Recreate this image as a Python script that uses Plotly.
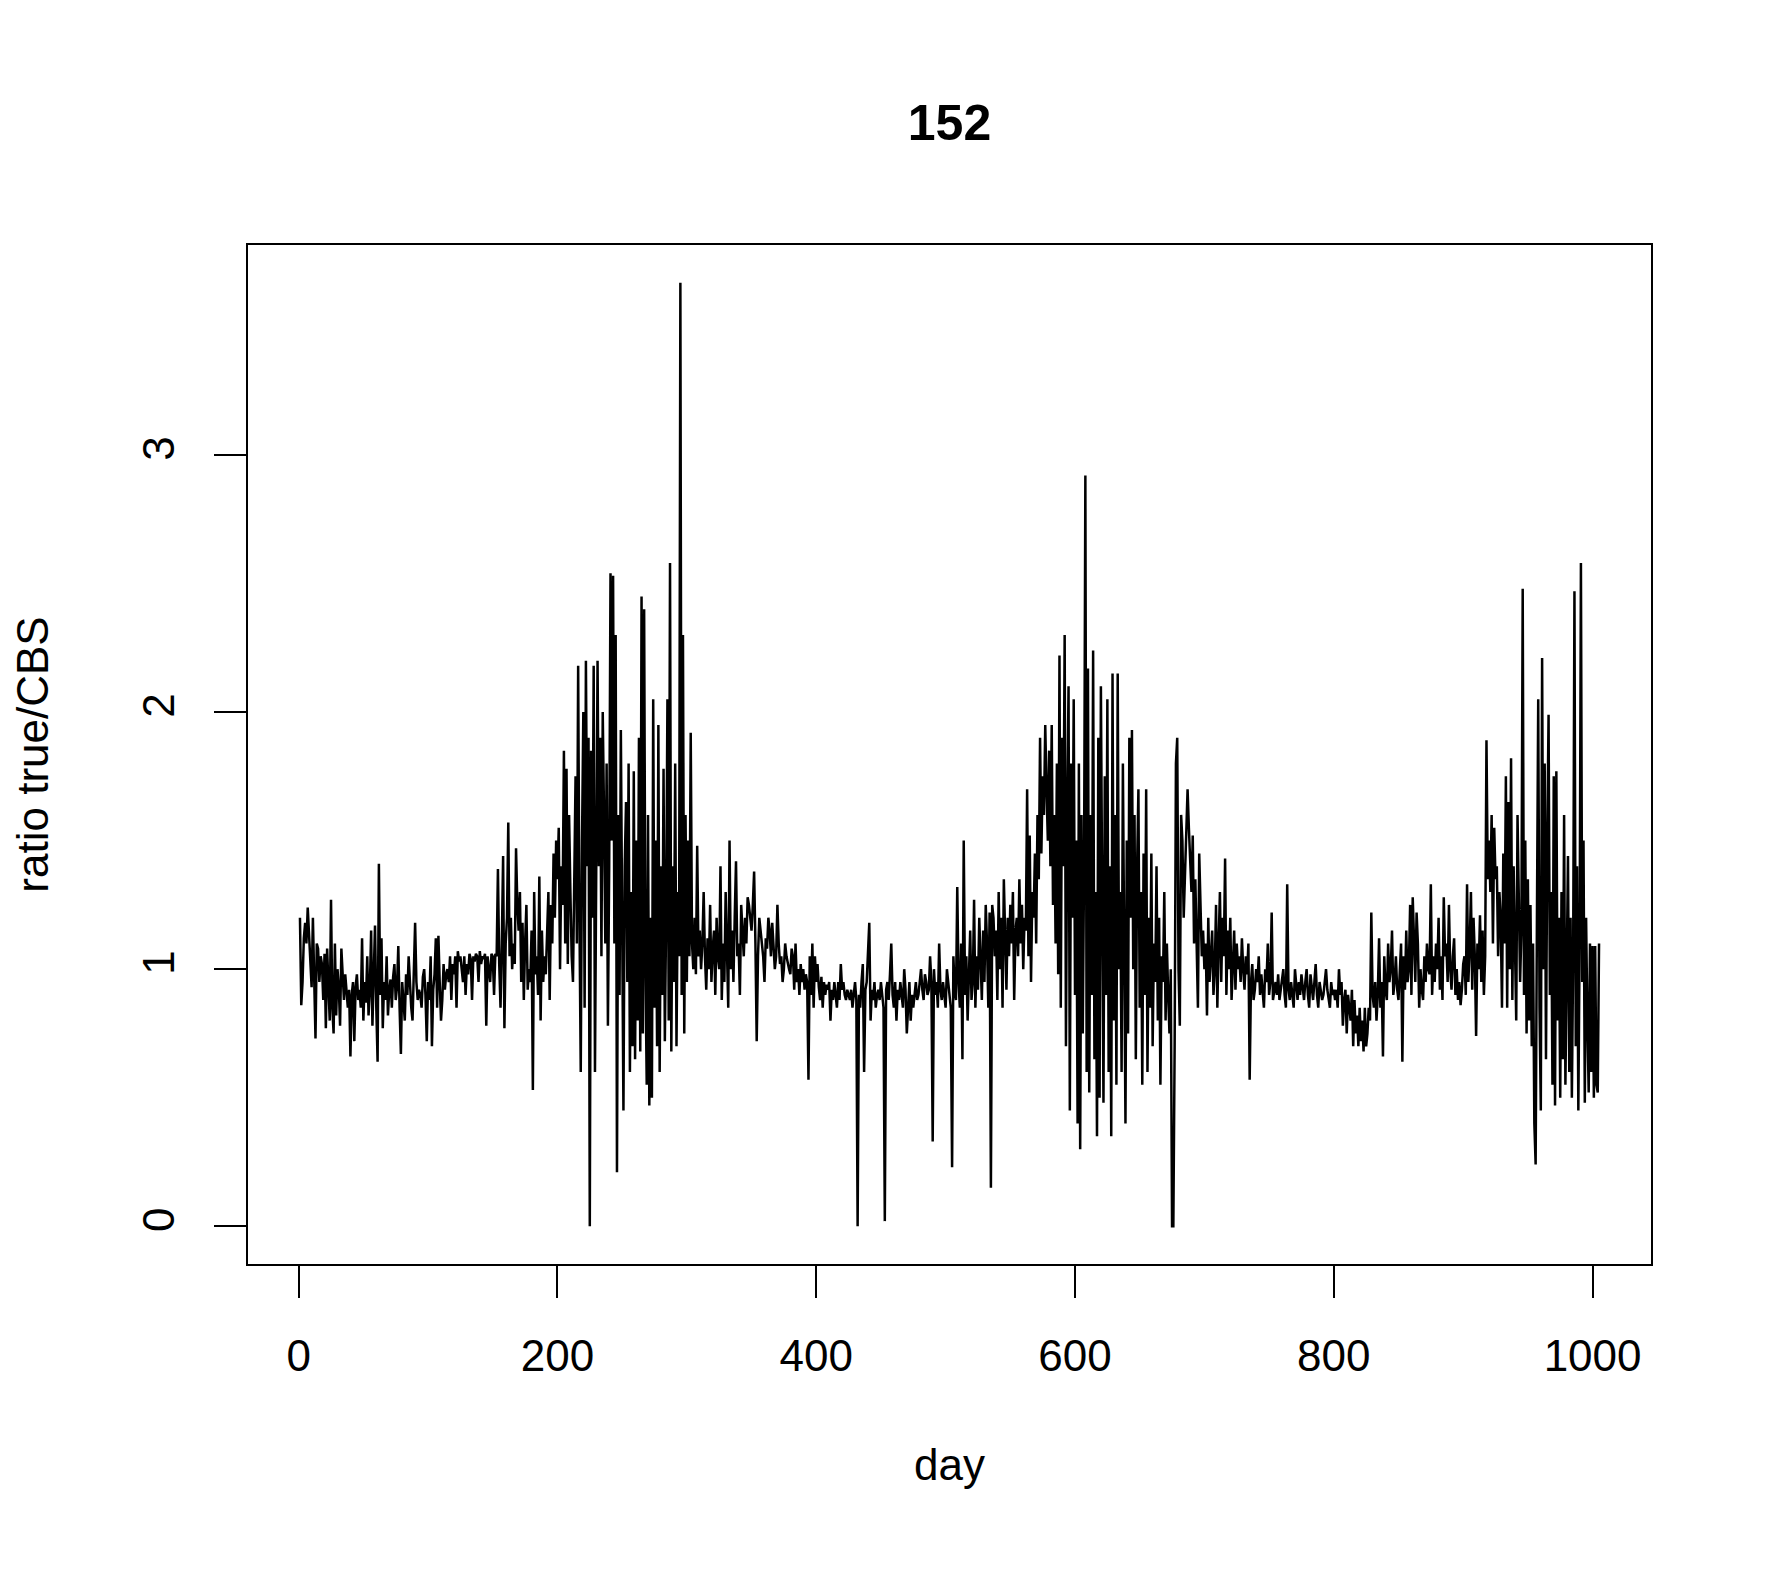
import plotly.graph_objects as go

title = "152"
x_label = "day"
y_label = "ratio true/CBS"
x_ticks = [0, 200, 400, 600, 800, 1000]
y_ticks = [0, 1, 2, 3]

ratio = [
1.20,0.86,0.95,1.12,1.18,1.10,1.24,1.15,1.05,0.93,1.20,0.98,0.73,1.10,1.08,0.95,1.05,1.02,0.88,1.06,0.77,1.08,0.95,0.80,1.27,
0.85,0.75,1.10,0.82,1.00,0.93,0.78,1.08,0.95,0.88,0.98,0.91,0.85,0.92,0.66,0.90,0.95,0.72,0.93,0.98,0.88,0.92,0.85,1.12,0.80,
0.95,0.87,1.05,0.82,0.92,1.15,0.78,0.95,1.17,0.85,0.64,1.41,0.90,1.12,0.77,0.95,0.88,1.05,0.82,0.92,0.96,0.85,0.97,1.02,0.88,
0.93,1.09,0.85,0.67,0.95,0.88,0.80,0.98,0.90,1.05,0.92,0.85,0.80,0.98,1.18,0.95,0.88,0.92,0.90,0.85,0.97,1.00,0.90,0.72,0.95,
0.88,1.05,0.70,0.92,0.98,1.12,0.85,1.13,0.95,0.80,0.88,1.02,0.92,0.98,1.00,0.95,1.05,0.88,1.02,0.98,1.05,0.85,1.07,1.03,1.05,
1.00,0.95,1.05,0.90,1.02,0.98,1.06,1.04,0.88,1.05,1.03,1.06,1.05,0.95,1.07,1.02,1.05,1.04,1.06,0.78,1.05,1.00,0.95,1.06,1.05,
0.90,1.06,1.05,1.39,1.02,0.85,1.10,1.44,0.77,1.10,1.20,1.57,1.05,1.20,1.00,1.10,1.02,1.47,1.25,1.15,1.30,0.95,1.18,0.88,1.10,
1.25,0.92,1.00,0.95,1.15,0.53,1.30,0.98,1.05,0.90,1.36,0.80,1.15,0.95,1.05,0.98,1.12,1.30,0.88,1.25,1.10,1.45,1.20,1.50,1.35,
1.55,1.00,1.40,1.25,1.85,1.10,1.78,1.02,1.60,1.30,1.05,0.95,1.45,1.75,1.10,2.18,1.20,0.60,1.50,2.00,0.85,2.20,1.40,1.90,0.00,
1.85,1.20,2.18,0.60,1.50,2.20,1.40,1.90,1.05,2.00,1.60,1.10,1.80,0.78,1.40,2.54,1.50,2.53,1.10,2.30,0.21,1.60,0.90,1.93,1.20,
0.45,1.40,1.65,0.95,1.80,0.60,1.30,0.70,1.77,0.65,1.50,0.80,1.90,0.68,2.45,0.75,2.40,1.00,0.55,1.60,0.47,1.20,0.50,2.05,0.85,
1.50,0.70,1.95,0.60,1.40,0.90,1.78,0.72,1.20,2.05,0.80,2.58,0.68,1.40,0.95,1.80,0.70,1.30,1.05,3.67,0.90,2.30,0.75,1.60,0.95,
1.50,1.05,1.92,1.10,1.00,1.20,0.98,1.48,1.05,1.15,1.00,1.10,1.30,1.05,0.92,1.12,1.00,1.25,0.95,1.08,1.15,0.90,1.20,1.05,1.00,
1.40,0.88,1.10,0.95,1.30,1.05,0.85,1.50,1.00,1.15,0.95,1.20,1.42,1.05,1.10,0.90,1.25,1.15,1.05,1.20,1.10,1.28,1.25,1.20,1.15,
1.25,1.38,1.10,0.72,1.05,1.20,1.15,1.10,1.05,0.95,1.12,1.08,1.20,1.15,1.05,1.18,1.10,1.00,1.05,1.25,1.10,1.02,1.05,0.95,1.00,
1.10,1.05,1.02,1.00,0.98,1.08,1.05,0.92,1.10,0.95,1.00,0.90,1.02,0.95,1.00,0.92,0.98,0.95,0.57,1.05,0.90,1.10,0.85,1.05,0.95,
1.02,0.93,0.88,0.97,0.85,0.95,0.90,0.94,0.92,0.95,0.80,0.92,0.88,0.95,0.90,0.85,0.95,0.88,1.02,0.92,0.95,0.90,0.88,0.92,0.90,
0.88,0.92,0.85,0.90,0.95,0.88,0.00,0.90,0.85,0.95,1.02,0.60,0.92,0.95,1.05,1.18,0.80,0.92,0.88,0.95,0.85,0.90,0.92,0.88,0.95,
0.90,0.85,0.02,0.92,0.95,0.88,0.98,1.10,0.90,0.85,0.95,0.80,0.92,0.88,0.95,0.90,0.85,1.00,0.92,0.75,0.88,0.95,0.80,0.90,0.85,
0.92,0.95,0.88,0.90,0.95,1.00,0.92,0.88,0.98,0.95,0.90,0.92,1.05,0.95,0.33,1.00,0.90,0.95,0.85,1.10,0.92,0.88,0.95,0.90,0.85,
1.00,0.95,0.90,0.85,0.23,1.05,0.92,0.88,1.32,0.95,0.85,1.10,0.65,1.50,0.90,1.05,0.80,1.00,1.15,0.88,0.95,1.27,0.85,1.05,0.92,
1.20,1.00,0.88,1.15,0.95,1.25,1.10,0.85,1.22,0.15,1.25,1.20,1.05,1.15,0.88,1.30,1.00,1.20,0.85,1.35,1.10,0.92,1.20,1.05,1.25,
1.10,1.30,0.88,1.15,1.20,1.05,1.35,1.10,1.25,1.00,1.20,1.15,1.70,1.05,1.52,0.95,1.30,1.20,1.45,1.10,1.60,1.35,1.90,1.45,1.75,
1.60,1.95,1.70,1.50,1.85,1.40,1.95,1.25,1.60,1.10,1.80,0.98,2.22,0.85,1.90,1.40,2.30,0.70,1.60,2.10,0.45,1.80,1.20,2.05,0.90,
1.50,0.40,1.80,0.30,1.60,0.75,1.40,2.92,0.60,2.17,0.52,1.60,0.90,2.24,0.65,1.30,0.35,1.90,0.50,2.10,1.20,0.48,1.75,0.90,2.05,
0.60,1.40,0.35,2.15,0.80,1.60,0.55,2.15,1.00,1.30,0.60,1.80,0.90,0.40,1.50,0.75,1.90,1.20,1.93,1.00,1.60,0.65,1.40,1.70,0.85,
1.30,0.55,1.45,0.90,1.70,0.60,1.20,0.85,1.45,0.70,1.10,0.95,1.40,0.80,1.20,0.55,1.05,0.95,1.30,0.80,1.10,0.90,0.75,1.00,0.00,
0.00,0.70,1.80,1.90,1.00,0.78,1.60,1.50,1.20,1.40,1.60,1.70,1.55,1.40,1.30,1.52,1.10,1.35,1.00,0.85,1.45,1.20,1.05,1.15,1.00,
1.10,0.82,1.20,0.95,1.05,1.15,0.90,1.00,1.25,0.85,1.10,1.30,0.95,1.20,1.05,1.43,0.90,1.15,1.00,1.20,0.88,1.05,1.15,0.92,1.10,
1.00,1.05,0.95,1.12,1.00,0.92,1.05,0.98,1.10,0.57,0.95,1.02,0.88,0.92,1.00,0.95,1.05,0.90,0.98,0.92,0.85,1.00,0.95,1.10,0.90,
0.95,1.22,0.88,0.92,0.95,0.90,0.98,0.88,0.92,0.95,1.00,0.90,0.85,1.33,0.92,0.88,0.95,0.90,0.85,1.00,0.92,0.88,0.95,0.90,0.98,
0.92,0.88,0.95,1.00,0.90,0.85,0.98,0.92,0.88,0.95,1.02,0.90,0.85,0.95,0.92,0.88,0.90,0.95,1.00,0.92,0.88,0.85,0.95,0.90,0.92,
0.88,0.92,0.85,1.00,0.90,0.95,0.78,0.88,0.92,0.75,0.90,0.85,0.80,0.92,0.70,0.88,0.75,0.82,0.70,0.85,0.72,0.80,0.68,0.85,0.70,
0.75,0.85,0.80,1.22,0.90,0.85,0.95,0.80,0.90,1.12,0.85,0.95,0.66,1.05,0.92,0.88,1.10,0.95,1.00,1.15,0.90,0.95,1.05,0.92,0.88,
0.98,1.10,0.64,1.05,0.92,1.15,0.95,1.00,1.25,0.90,1.28,1.05,0.95,1.22,1.10,0.85,1.00,0.92,0.88,1.05,0.95,1.10,1.00,0.98,1.33,
0.90,1.05,0.95,1.10,1.00,1.20,0.92,1.05,0.88,1.28,1.05,1.10,0.95,1.25,1.00,0.92,1.05,1.12,0.90,1.00,0.88,0.95,0.86,0.92,1.02,
1.05,0.90,1.33,0.95,1.08,1.30,0.92,1.20,1.05,0.74,1.10,1.00,1.21,0.95,1.15,0.90,1.05,1.89,1.35,1.50,1.30,1.60,1.10,1.55,1.35,
1.40,1.05,1.30,1.20,0.85,1.45,1.10,1.75,0.85,1.65,1.00,1.82,0.88,1.40,1.10,0.80,1.60,1.20,0.95,1.15,2.48,0.90,1.50,0.75,1.35,
0.80,1.25,0.70,1.10,0.40,0.24,1.20,2.05,0.85,0.45,2.21,1.00,1.80,0.65,1.50,1.99,0.90,1.30,0.55,1.75,0.47,1.77,0.80,1.20,0.50,
1.30,0.65,1.60,0.55,1.00,1.44,0.60,1.20,0.50,1.05,2.47,0.70,1.40,0.45,1.10,2.58,0.95,1.50,0.48,1.20,0.80,0.52,1.10,0.60,1.09,
0.50,1.09,0.55,0.52,1.10,
]
days = list(range(1, len(ratio) + 1))

FONT = "Liberation Sans, Arial, sans-serif"
fig = go.Figure(go.Scatter(x=days, y=ratio, mode="lines",
                           line=dict(color="black", width=2.5)))

n = len(days)
xr = [1 - 0.04 * (n - 1), n + 0.04 * (n - 1)]
ymax = max(ratio)
yr = [-0.04 * ymax, ymax * 1.04]

axis_common = dict(showgrid=False, zeroline=False, showline=True, linecolor="black",
                   linewidth=2, mirror=True, ticks="outside", ticklen=32,
                   tickwidth=2, tickcolor="black",
                   tickfont=dict(family=FONT, size=44, color="black"))
fig.update_layout(
    width=1779, height=1572, plot_bgcolor="white", paper_bgcolor="white",
    margin=dict(l=240, r=136, t=237, b=316),
    showlegend=False,
    title=dict(text="<b>" + title + "</b>", x=(240 + 1779 - 136) / 2 / 1779, xanchor="center",
               y=1 - 114 / 1572, yanchor="middle",
               font=dict(family=FONT, size=50, color="black")),
    xaxis=dict(range=xr, tickvals=x_ticks, **axis_common,
               title=dict(text=x_label, standoff=70,
                          font=dict(family=FONT, size=44, color="black"))),
    yaxis=dict(range=yr, tickvals=y_ticks, tickangle=-90, **axis_common,
               title=dict(text=y_label, standoff=72,
                          font=dict(family=FONT, size=44, color="black"))),
)
fig.update_xaxes(ticklabelstandoff=20)
fig.update_yaxes(ticklabelstandoff=22)
fig.write_html("out.html")
